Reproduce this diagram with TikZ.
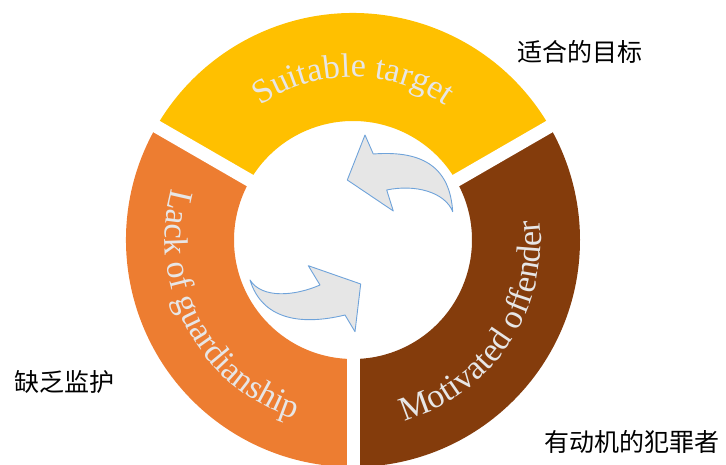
\documentclass[tikz,border=0pt]{standalone}
\usepackage{fontspec}
\setmainfont{Liberation Serif}
\newfontfamily\cjk{Noto Sans CJK SC}
\usepackage{tikz}
\usetikzlibrary{positioning,calc,decorations.text}

\definecolor{targetcol}{HTML}{FFC000}
\definecolor{guardcol}{HTML}{ED7D31}
\definecolor{offendcol}{HTML}{843C0C}
\definecolor{labelgray}{HTML}{E7E6E6}
\definecolor{arrowgray}{HTML}{E6E6E6}
\definecolor{arrowblue}{HTML}{6FA3DA}
\newcommand{\ringfont}{\fontsize{34}{34}\selectfont}

\begin{document}
\begin{tikzpicture}[x=1pt,y=1pt]
    \tikzstyle{ringlabel}=[decorate, decoration={text along path, text align=center, text color=labelgray}]
    \tikzstyle{cnlabel}=[font=\cjk\fontsize{25}{25}\selectfont, text=black, inner sep=0pt]
    \tikzstyle{cyclearrow}=[fill=arrowgray, draw=arrowblue, line width=0.9pt, line join=round]

    \useasboundingbox (0,0) rectangle (726,464);
    \clip (0,0) rectangle (726,464);
    \coordinate (C) at (353,224);

    % the three parts of the ring
    \foreach \a/\col in {30/targetcol,150/guardcol,270/offendcol}
        \fill[\col] ($(C)+(\a:119)$) -- ($(C)+(\a:227)$)
            arc[start angle=\a, delta angle=120, radius=227]
            -- ($(C)+(\a+120:119)$)
            arc[start angle=\a+120, delta angle=-120, radius=119] -- cycle;
    \foreach \a in {30,150,270}
        \draw[white, line width=13pt] (C) -- ++(\a:240);

    % curved labels
    \path[ringlabel, decoration={text={|\ringfont|Suitable target}}]
        ($(C)+(150:163)$) arc[start angle=150, end angle=30, radius=163];
    \path[ringlabel, decoration={text={|\ringfont|Motivated offender}}]
        ($(C)+(-94:188)$) arc[start angle=-94, end angle=26, radius=188];
    \path[ringlabel, decoration={text={|\ringfont|Lack of guardianship}}]
        ($(C)+(148:188)$) arc[start angle=148, end angle=268, radius=188];

    % arrows in the middle
    \draw[cyclearrow] (452.7,252.3) .. controls (450,295) and (425,314) .. (373.3,310)
        -- (365,329) -- (347.3,284) -- (393.3,253) -- (386.7,274)
        .. controls (415,280) and (445,272) .. (452.7,252.3) -- cycle;
    \draw[cyclearrow] (250,184) .. controls (262,165) and (295,168) .. (320,179)
        -- (308.3,198.3) -- (360.7,180) -- (355,132.3) -- (345,149)
        .. controls (300,138) and (262,145) .. (250,184) -- cycle;

    \node[cnlabel] (target) at (580,412) {适合的目标};
    \node[cnlabel] (guard) at (65,82) {缺乏监护};
    \node[cnlabel] (offender) at (632,22) {有动机的犯罪者};
\end{tikzpicture}
\end{document}
